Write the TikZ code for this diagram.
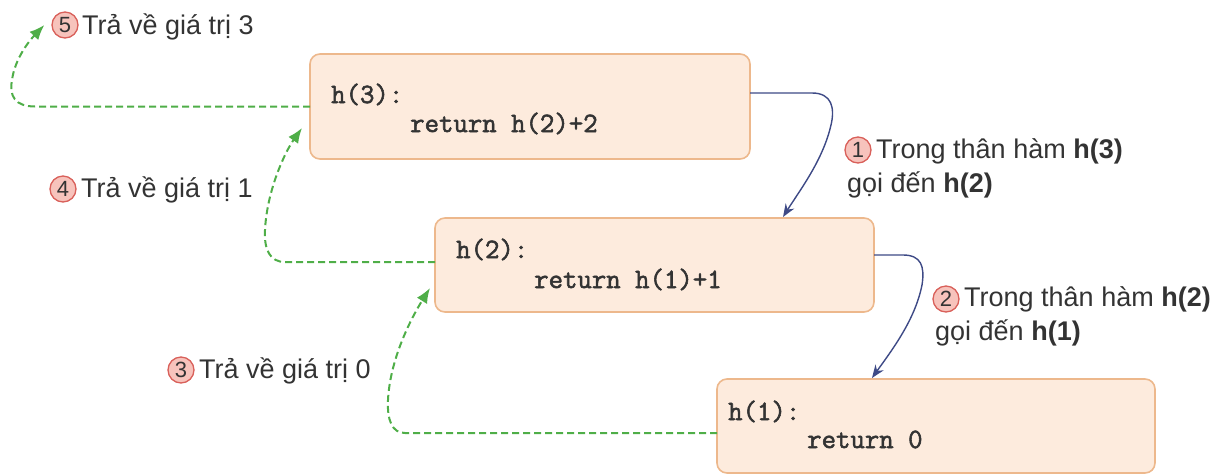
\documentclass[tikz,border=0pt]{standalone}
\usepackage{fontspec}
\setmainfont{Liberation Sans}
\newfontfamily\codefont{Latin Modern Mono}[AutoFakeBold=2]
\usetikzlibrary{arrows.meta}
\definecolor{boxfill}{HTML}{FDEBDD}
\definecolor{boxline}{HTML}{EDB88C}
\definecolor{grn}{HTML}{4FAE48}
\definecolor{blu}{HTML}{3E4A86}
\definecolor{cfill}{HTML}{F7C3BC}
\definecolor{cline}{HTML}{D9605A}
\definecolor{txt}{HTML}{333333}
\begin{document}
\begin{tikzpicture}[x=1pt,y=-1pt,
 codebox/.style={draw=boxline, fill=boxfill, line width=1.6pt, rounded corners=10pt, inner sep=0pt, outer sep=0pt},
 code/.style={anchor=base west, inner sep=0pt, font=\fontsize{28}{28}\codefont\bfseries, text=txt},
 lbl/.style={anchor=base west, inner sep=0pt, font=\fontsize{27}{27}\selectfont, text=txt},
 num/.style={circle, draw=cline, fill=cfill, line width=1.3pt, minimum size=26pt, inner sep=0pt, font=\fontsize{22}{22}\selectfont, text=txt},
 callarrow/.style={draw=blu, line width=1.4pt, -{Stealth[length=13pt,width=10pt]}},
 retarrow/.style={draw=grn, line width=2pt, dash pattern=on 7pt off 4pt, -{Latex[length=15pt,width=12pt]}}]
\path[use as bounding box] (0,0) rectangle (1219,475);

% boxes
\node[codebox, minimum width=440pt, minimum height=105pt] (b3) at (530,106.5) {};
\node[codebox, minimum width=439pt, minimum height=94pt] (b2) at (654.5,265) {};
\node[codebox, minimum width=438pt, minimum height=94pt] (b1) at (936,426) {};

% code
\node[code] (c3a) at (331,103) {h(3):};
\node[code] (c3b) at (410,132) {return h(2)+2};
\node[code] (c2a) at (456,258) {h(2):};
\node[code] (c2b) at (534,288) {return h(1)+1};
\node[code] (c1a) at (728,420) {h(1):};
\node[code] (c1b) at (807,448) {return 0};

% labels
\node[num] (n5) at (65,25) {5};
\node[lbl] (t5) at (82,34) {Trả về giá trị 3};
\node[num] (n4) at (63,189) {4};
\node[lbl] (t4) at (81,197) {Trả về giá trị 1};
\node[num] (n3) at (181,370) {3};
\node[lbl] (t3) at (199,378) {Trả về giá trị 0};
\node[num] (n1) at (858,150) {1};
\node[lbl] (t1a) at (876,158) {Trong thân hàm \textbf{h(3)}};
\node[lbl] (t1b) at (847,192) {gọi đến \textbf{h(2)}};
\node[num] (n2) at (946,299) {2};
\node[lbl] (t2a) at (964,306) {Trong thân hàm \textbf{h(2)}};
\node[lbl] (t2b) at (935,340) {gọi đến \textbf{h(1)}};

% call arrows
\draw[callarrow] ([yshift=13.5pt]b3.east) -- (812,93) .. controls (832,93) and (835,108) .. (831,125) .. controls (823,160) and (800,190) .. ([xshift=128.5pt,yshift=1pt]b2.north);
\draw[callarrow] ([yshift=10pt]b2.east) -- (903,255) .. controls (921,255) and (925,266) .. (922,285) .. controls (915,320) and (892,350) .. ([xshift=-64pt,yshift=1pt]b1.north);

% return arrows
\draw[retarrow] (b3.west) -- (35,106.5) .. controls (15,106.5) and (9,96) .. (12,80) .. controls (15,58) and (30,40) .. ([xshift=-7pt]n5.west);
\draw[retarrow] ([yshift=3pt]b2.west) -- (285,262) .. controls (270,262) and (264,250) .. (265,230) .. controls (267,190) and (285,152) .. ([xshift=-8pt,yshift=31pt]b3.south west);
\draw[retarrow] ([yshift=-7pt]b1.west) -- (405,433) .. controls (392,433) and (387,420) .. (388,400) .. controls (390,360) and (410,320) .. ([xshift=-5pt,yshift=24pt]b2.south west);
\end{tikzpicture}
\end{document}
